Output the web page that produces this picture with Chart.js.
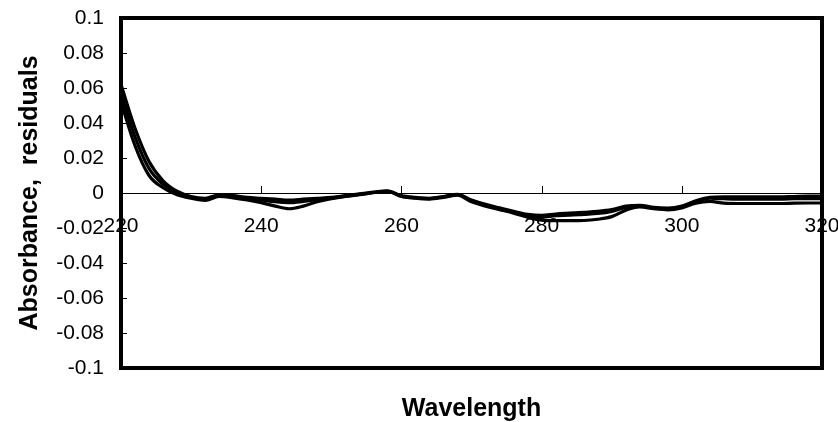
<!DOCTYPE html>
<html>
<head>
<meta charset="utf-8">
<script src="https://cdn.jsdelivr.net/npm/chart.js@4"></script>
<style>
  html, body { margin: 0; padding: 0; background: #fff; }
  #wrap { width: 838px; height: 422px; }
</style>
</head>
<body>
<div id="wrap"><canvas id="c" width="838" height="422"></canvas></div>
<script>
const wavelengths = [220,222,224,226,228,230,232,234,236,238,240,242,244,246,248,250,252,254,256,258,260,262,264,266,268,270,272,274,276,278,280,282,284,286,288,290,292,294,296,298,300,302,304,306,308,310,312,314,316,318,320];
const seriesA = [0.062,0.037,0.018,0.007,0.001,-0.002,-0.003,-0.001,-0.0015,-0.0025,-0.003,-0.0035,-0.004,-0.0035,-0.003,-0.0025,-0.0015,-0.0005,0.0005,0.0012,-0.0015,-0.0025,-0.003,-0.002,-0.0008,-0.004,-0.0065,-0.0085,-0.0105,-0.0122,-0.0128,-0.012,-0.0115,-0.011,-0.0105,-0.0095,-0.0075,-0.007,-0.0082,-0.0086,-0.0075,-0.0045,-0.0025,-0.0022,-0.0022,-0.0022,-0.0022,-0.0022,-0.002,-0.0018,-0.0018];
const seriesB = [0.057,0.032,0.014,0.005,0,-0.0025,-0.0035,-0.0015,-0.002,-0.003,-0.004,-0.005,-0.0055,-0.0048,-0.0038,-0.0028,-0.0018,-0.0008,0.0003,0.001,-0.0018,-0.0028,-0.0032,-0.0022,-0.001,-0.0045,-0.007,-0.009,-0.011,-0.0128,-0.0138,-0.013,-0.0127,-0.0122,-0.0117,-0.0105,-0.0082,-0.0075,-0.0087,-0.0092,-0.008,-0.005,-0.003,-0.0033,-0.0035,-0.0035,-0.0035,-0.0035,-0.0033,-0.0032,-0.0032];
const seriesC = [0.052,0.027,0.010,0.003,-0.001,-0.003,-0.0042,-0.002,-0.0028,-0.004,-0.0055,-0.0075,-0.009,-0.0075,-0.005,-0.0032,-0.002,-0.001,0.0002,0.001,-0.002,-0.003,-0.0035,-0.0025,-0.0012,-0.005,-0.0075,-0.0095,-0.0115,-0.0138,-0.0155,-0.0158,-0.0158,-0.0157,-0.015,-0.0135,-0.0098,-0.008,-0.009,-0.0096,-0.0085,-0.0058,-0.0048,-0.0058,-0.006,-0.006,-0.006,-0.006,-0.0058,-0.0057,-0.0057];
const xTicks = [220,240,260,280,300,320];
const yTicks = [0.1,0.08,0.06,0.04,0.02,0,-0.02,-0.04,-0.06,-0.08,-0.1];
const xTitle = 'Wavelength';
const yTitle = 'Absorbance,  residuals';

const toPts = arr => arr.map((v, i) => ({x: wavelengths[i], y: v}));
const mkSet = (arr) => ({
  data: toPts(arr), borderColor: '#000', borderWidth: 3.2, pointRadius: 0,
  fill: false, cubicInterpolationMode: 'monotone'
});
const noPad = s => { s.paddingTop = 0; s.paddingBottom = 0; s.paddingLeft = 0; s.paddingRight = 0; };

const framePlugin = {
  id: 'frame',
  afterDatasetsDraw(chart) {
    const {ctx, chartArea: a, scales: {x, y}} = chart;
    ctx.save();
    ctx.strokeStyle = '#000';
    ctx.lineWidth = 1;
    yTicks.forEach(v => {
      const py = Math.round(y.getPixelForValue(v)) + 0.5;
      ctx.beginPath(); ctx.moveTo(a.left, py); ctx.lineTo(a.left + 6, py); ctx.stroke();
    });
    const y0 = y.getPixelForValue(0);
    xTicks.forEach(v => {
      const px = Math.round(x.getPixelForValue(v)) + 0.5;
      ctx.beginPath(); ctx.moveTo(px, y0); ctx.lineTo(px, y0 - 7); ctx.stroke();
    });
    ctx.lineWidth = 4;
    ctx.strokeRect(a.left, a.top, a.right - a.left, a.bottom - a.top);
    ctx.restore();
  }
};

new Chart(document.getElementById('c'), {
  type: 'line',
  data: { datasets: [mkSet(seriesA), mkSet(seriesB), mkSet(seriesC)] },
  options: {
    responsive: false,
    animation: false,
    events: [],
    layout: { padding: { left: 0, top: 18, right: 16, bottom: 0 } },
    plugins: {
      legend: { display: false },
      tooltip: { enabled: false },
      title: {
        display: true, position: 'bottom', fullSize: false, text: xTitle, color: '#000',
        font: { family: 'Liberation Sans, Arial, sans-serif', size: 25, weight: 'bold', lineHeight: 1 },
        padding: { top: 29, bottom: 0 }
      }
    },
    scales: {
      x: {
        type: 'linear', min: 220, max: 320,
        position: { y: 0 },
        afterBuildTicks: s => { s.ticks = xTicks.map(v => ({value: v})); },
        afterFit: noPad,
        ticks: {
          color: '#000', padding: 21, maxRotation: 0, autoSkip: false,
          font: { family: 'Liberation Sans, Arial, sans-serif', size: 21 },
          callback: v => String(v)
        },
        grid: { drawOnChartArea: false, drawTicks: false },
        border: { display: true, color: '#000', width: 1 }
      },
      y: {
        type: 'linear', min: -0.1, max: 0.1,
        afterBuildTicks: s => { s.ticks = yTicks.map(v => ({value: v})); },
        afterFit: s => { s.width = 121; noPad(s); },
        ticks: {
          color: '#000', padding: 9, autoSkip: false,
          font: { family: 'Liberation Sans, Arial, sans-serif', size: 21 },
          callback: v => String(Math.round(v * 100) / 100)
        },
        grid: { display: false },
        border: { display: false },
        title: {
          display: true, text: yTitle, color: '#000',
          font: { family: 'Liberation Sans, Arial, sans-serif', size: 25, weight: 'bold', lineHeight: 1 },
          padding: { top: 18, bottom: 0 }
        }
      }
    }
  },
  plugins: [framePlugin]
});
</script>
</body>
</html>
